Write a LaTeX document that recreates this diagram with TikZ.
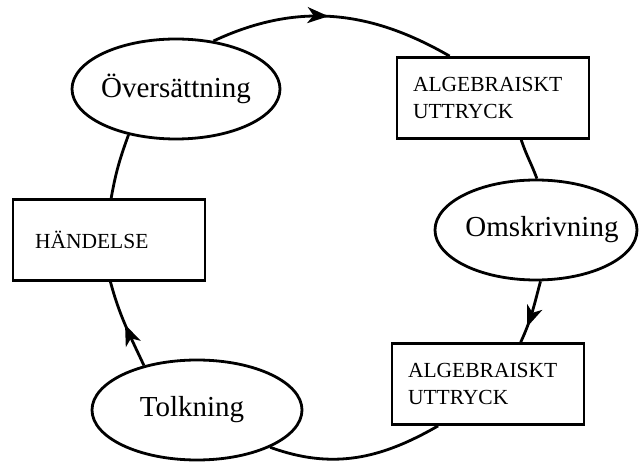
\documentclass[tikz,border=0pt]{standalone}
\usepackage{fontspec}
\setmainfont{Liberation Serif}
\usetikzlibrary{arrows.meta, shapes.geometric, decorations.markings}

\begin{document}
\begin{tikzpicture}[x=1pt, y=1pt,
    etapp/.style={ellipse, draw, line width=2.8pt, inner xsep=-6pt, inner ysep=0pt, minimum height=100pt, font=\fontsize{29}{34}\selectfont},
    ruta/.style={rectangle, draw, line width=2.8pt, minimum height=81pt, inner xsep=16pt, text width=160pt, align=left, font=\fontsize{21.5}{27}\selectfont},
    kant/.style={line width=2.8pt},
    pil/.style={kant, postaction={decorate}, decoration={markings, mark=at position #1 with {\arrow{Stealth[length=21pt, width=16pt, inset=6pt]}}}}
]
    \useasboundingbox (0,0) rectangle (640,461);

    % === NODER ===
    \node[etapp, minimum width=208pt] (oversattning) at (176,372) {Översättning};
    \node[ruta] (uttryck1) at (493,363) {ALGEBRAISKT\\UTTRYCK};
    \node[etapp, minimum width=202pt, inner xsep=-13pt] (omskrivning) at (536,231) {\hspace*{12pt}Omskrivning};
    \node[ruta] (uttryck2) at (488,77) {ALGEBRAISKT\\UTTRYCK};
    \node[etapp, minimum width=210pt] (tolkning) at (197,51) {Tolkning\hspace*{10pt}};
    \node[ruta, inner xsep=22pt, text width=148pt] (handelse) at (109,221) {HÄNDELSE};

    % === KANTER ===
    \draw[pil=0.48] (oversattning.52) to[out=25, in=150] (uttryck1.136);
    \draw[kant] (uttryck1.-56) to[out=-72, in=110] (omskrivning.89);
    \draw[pil=0.74] (omskrivning.-85) to[out=-105, in=65] (uttryck2.52);
    \draw[kant] (uttryck2.220) to[out=-150, in=-20] (tolkning.-27);
    \draw[pil=0.5] (tolkning.140) to[out=115, in=-75] (handelse.-88);
    \draw[kant] (handelse.87) to[out=80, in=-110] (oversattning.224);

\end{tikzpicture}
\end{document}
